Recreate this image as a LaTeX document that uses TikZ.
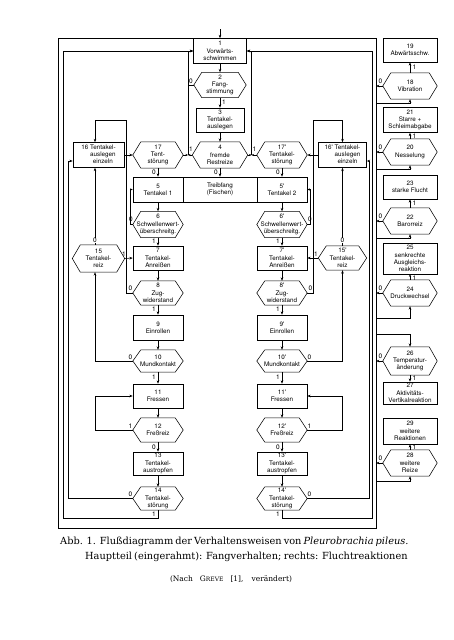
\documentclass[tikz,border=0pt]{standalone}
\usepackage{fontspec}
\newfontfamily\hv{TeX Gyre Heros}
\newfontfamily\capfont{DejaVu Serif}
\usetikzlibrary{arrows.meta}
\newcommand\hexnode[5]{%
  \node[txt,minimum width=#3pt,minimum height=#4pt] (#1) at (#2) {#5};
  \draw[ln] (#1.west) -- ([xshift=8pt]#1.north west) -- ([xshift=-8pt]#1.north east)
    -- (#1.east) -- ([xshift=-8pt]#1.south east) -- ([xshift=8pt]#1.south west) -- cycle;}
\begin{document}
\begin{tikzpicture}[x=1pt,y=-1pt,
  ln/.style={line width=0.55pt},
  arr/.style={ln,-{Stealth[length=3.4pt,width=2.6pt]}},
  sarr/.style={ln,-{Stealth[length=2.6pt,width=2.2pt]}},
  txt/.style={font=\hv\fontsize{6.3}{7.2}\selectfont,align=center,inner sep=0pt},
  box/.style={txt,draw,ln},
  lbl/.style={font=\hv\fontsize{6.5}{6.5}\selectfont,inner sep=0pt},
  lblw/.style={lbl,fill=white,inner sep=0.5pt}]
\useasboundingbox (0,0) rectangle (453,640);
\fill[white] (0,0) rectangle (453,640);
% frame (main part)
\draw[ln] (58,38) rectangle (376,528);

% ---------- centre column
\node[box,minimum width=53pt,minimum height=25pt] (n1) at (220,51) {1\\Vorwärts-\\schwimmen};
\hexnode{n2}{220,85}{52}{25}{2\\Fang-\\stimmung}
\node[box,minimum width=48pt,minimum height=24pt] (n3) at (220,120) {3\\Tentakel-\\auslegen};
\hexnode{n4}{220,155}{55}{26}{4\\fremde\\Restreize}

% ---------- left side
\hexnode{n17}{158,155}{50}{26}{17\\Tent-\\störung}
\node[box,minimum width=51pt,minimum height=25pt] (n16) at (98.5,155) {16~\begin{tabular}[t]{@{}c@{}}Tentakel-\\auslegen\\einzeln\end{tabular}};
\node[box,minimum width=50pt,minimum height=25pt] (n5) at (158,189.5) {5\\Tentakel 1};
\node[box,minimum width=74pt,minimum height=25pt] (ntr) at (220,189.5) {Treibfang\\(Fischen)};
\node[box,minimum width=50pt,minimum height=25pt] (n5p) at (282,189.5) {5'\\Tentakel 2};
\hexnode{n6}{158,224.5}{50}{26}{6\\Schwellenwert-\\überschreitg.}
\node[box,minimum width=50pt,minimum height=24pt] (n7) at (158,258) {7\\Tentakel-\\Anreißen};
\hexnode{n8}{158,293}{50}{24}{8\\Zug-\\widerstand}
\node[box,minimum width=50pt,minimum height=25pt] (n9) at (158,327.5) {9\\Einrollen};
\hexnode{n10}{158,361}{50}{22}{10\\Mundkontakt}
\node[box,minimum width=50pt,minimum height=24pt] (n11) at (158,396) {11\\Fressen};
\hexnode{n12}{158,430}{50}{24}{12\\Freßreiz}
\node[box,minimum width=50pt,minimum height=23pt] (n13) at (158,463.5) {13\\Tentakel-\\austropfen};
\hexnode{n14}{158,498.5}{50}{23}{14\\Tentakel-\\störung}
\hexnode{n15}{98.5,258.5}{52}{27}{15\\Tentakel-\\reiz}

% ---------- right side
\hexnode{n17p}{282,155}{50}{26}{17'\\Tentakel-\\störung}
\node[box,minimum width=48pt,minimum height=25pt] (n16p) at (342.5,155) {16'~\begin{tabular}[t]{@{}c@{}}Tentakel-\\auslegen\\einzeln\end{tabular}};
\hexnode{n6p}{282,224.5}{50}{26}{6'\\Schwellenwert-\\überschreitg.}
\node[box,minimum width=50pt,minimum height=24pt] (n7p) at (282,258) {7'\\Tentakel-\\Anreißen};
\hexnode{n8p}{282,293}{50}{24}{8'\\Zug-\\widerstand}
\node[box,minimum width=50pt,minimum height=25pt] (n9p) at (282,327.5) {9'\\Einrollen};
\hexnode{n10p}{282,361}{50}{22}{10'\\Mundkontakt}
\node[box,minimum width=50pt,minimum height=24pt] (n11p) at (282,396) {11'\\Fressen};
\hexnode{n12p}{282,430}{50}{24}{12'\\Freßreiz}
\node[box,minimum width=50pt,minimum height=23pt] (n13p) at (282,463.5) {13'\\Tentakel-\\austropfen};
\hexnode{n14p}{282,498.5}{50}{23}{14'\\Tentakel-\\störung}
\hexnode{n15p}{342.5,258}{48}{24}{15'\\Tentakel-\\reiz}

% ---------- escape column
\node[box,minimum width=54pt,minimum height=24pt] (n19) at (410,50) {19\\Abwärtsschw.};
\hexnode{n18}{410,86}{54}{26}{18\\Vibration}
\node[box,minimum width=54pt,minimum height=25pt] (n21) at (410,120) {21\\Starre +\\Schleimabgabe};
\hexnode{n20}{410,152}{54}{26}{20\\Nesselung}
\node[box,minimum width=54pt,minimum height=24pt] (n23) at (410,187) {23\\starke Flucht};
\hexnode{n22}{410,221}{54}{26}{22\\Barorreiz}
\node[box,minimum width=54pt,minimum height=31pt] (n25) at (410,258.5) {25\\senkrechte\\Ausgleichs-\\reaktion};
\hexnode{n24}{410,293}{54}{26}{24\\Druckwechsel}
\hexnode{n26}{410,361}{54}{28}{26\\Temperatur-\\änderung}
\node[box,minimum width=54pt,minimum height=22pt] (n27) at (410,393) {27\\Aktivitäts-\\Vertikalreaktion};
\node[box,minimum width=54pt,minimum height=26pt] (n29) at (410,431) {29\\weitere\\Reaktionen};
\hexnode{n28}{410,463}{54}{26}{28\\weitere\\Reize}

% ---------- coordinates
\coordinate (start) at (220,29);
\coordinate (jL) at (188,51);
\coordinate (jLb) at (188,155);
\coordinate (jR) at (251.5,51);
\coordinate (jRb) at (251.5,155);
\coordinate (b14) at (158,518);
\coordinate (c63b) at (63,518);
\coordinate (c63t) at (63,51);
\coordinate (c68b) at (68,498.5);
\coordinate (c68t) at (68,161);
\coordinate (l8b) at (126.5,293);
\coordinate (l8t) at (126.5,120);
\coordinate (l8l) at (95,120);
\coordinate (l6b) at (129.8,224.5);
\coordinate (l6t) at (129.8,189.5);
\coordinate (b14p) at (282,518);
\coordinate (c372b) at (372.5,518);
\coordinate (c372t) at (372.5,51);
\coordinate (c369b) at (369.5,498.5);
\coordinate (c369t) at (369.5,161);
\coordinate (r8b) at (313,293);
\coordinate (r8t) at (313,120);
\coordinate (r8r) at (342.5,120);
\coordinate (r6b) at (309.8,224.5);
\coordinate (r6t) at (309.8,189.5);
\coordinate (fr) at (376,38);
\coordinate (i18) at (376,103);
\coordinate (i20) at (376,169);
\coordinate (i22) at (376,238);
\coordinate (i24) at (376,318);
\coordinate (i26) at (376,334);
\coordinate (i28) at (376,481);

% ---------- centre connectors
\draw[arr] (start) -- (n1.north);
\draw[arr] (n1.south) -- (n2.north);
\draw[arr] (n2.south) -- (n3.north);
\node[lbl] at (224,102) {1};
\draw[arr] (n3.south) -- (n4.north);
\draw[arr] (n4.south) -- (ntr.north);
\node[lbl] at (216,172) {0};
\draw[arr] (n2.west) -| (jL) -- (n1.west);
\node[lbl] at (191,81) {0};
\draw[ln] (jLb) -- (jL);
\draw[sarr] (n4.west) -- (jLb);
\draw[sarr] (n17.east) -- (jLb);
\node[lbl] at (191,149) {1};
\draw[arr] (jRb) -- (jR) -- (n1.east);
\draw[sarr] (n4.east) -- (jRb);
\draw[sarr] (n17p.west) -- (jRb);
\node[lbl] at (254.5,149) {1};

% ---------- left connectors
\draw[arr] (n17.south) -- (n5.north);
\node[lbl] at (154,172) {0};
\draw[arr] (n16.east) -- (n17.west);
\draw[arr] (n5.south) -- (n6.north);
\draw[arr] (n6.south) -- (n7.north);
\node[lbl] at (154,241) {1};
\draw[arr] (n7.south) -- (n8.north);
\draw[arr] (n8.south) -- (n9.north);
\node[lbl] at (154,309) {1};
\draw[arr] (n9.south) -- (n10.north);
\draw[arr] (n10.south) -- (n11.north);
\node[lbl] at (154,377.5) {1};
\draw[arr] (n11.south) -- (n12.north);
\draw[arr] (n12.south) -- (n13.north);
\node[lbl] at (154,447) {0};
\draw[arr] (n13.south) -- (n14.north);
\draw[sarr] (n6.west) -- (l6b) -- (l6t) -- (n5.west);
\node[lbl] at (131,219.5) {0};
\draw[arr] (n8.west) -- (l8b) -- (l8t) -- (l8l) -- (n16.north -| l8l);
\node[lbl] at (130.5,288.5) {0};
\draw[arr] (n15.east) -- (n7.west);
\node[lbl] at (124,254) {1};
\draw[arr] (n15.north -| l8l) -- (n16.south -| l8l);
\node[lblw] at (95,240.5) {0};
\draw[arr] (n10.west) -- (n10.west -| l8l) -- (n15.south -| l8l);
\node[lbl] at (130.5,357) {0};
\draw[arr] (n12.west) -- (n12.west -| l8l) -- (n11.west -| l8l) -- (n11.west);
\node[lbl] at (130.5,426) {1};
\draw[arr] (n14.west) -- (c68b) -- (c68t) -- (n16.west |- c68t);
\node[lbl] at (130.5,494.5) {0};
\draw[arr] (n14.south) -- (b14) -- (c63b) -- (c63t) -- (n1.west);
\node[lbl] at (154,514) {1};

% ---------- right connectors
\draw[arr] (n17p.south) -- (n5p.north);
\node[lbl] at (278,172) {0};
\draw[arr] (n16p.west) -- (n17p.east);
\draw[arr] (n5p.south) -- (n6p.north);
\draw[arr] (n6p.south) -- (n7p.north);
\node[lbl] at (278,241) {1};
\draw[arr] (n7p.south) -- (n8p.north);
\draw[arr] (n8p.south) -- (n9p.north);
\node[lbl] at (278,309) {1};
\draw[arr] (n9p.south) -- (n10p.north);
\draw[arr] (n10p.south) -- (n11p.north);
\node[lbl] at (278,377.5) {1};
\draw[arr] (n11p.south) -- (n12p.north);
\draw[arr] (n12p.south) -- (n13p.north);
\node[lbl] at (278,447) {0};
\draw[arr] (n13p.south) -- (n14p.north);
\draw[sarr] (n6p.east) -- (r6b) -- (r6t) -- (n5p.east);
\node[lbl] at (310,219.5) {0};
\draw[arr] (n8p.east) -- (r8b) -- (r8t) -- (r8r) -- (n16p.north);
\node[lbl] at (310.5,288.5) {0};
\draw[arr] (n15p.west) -- (n7p.east);
\node[lbl] at (316,254) {1};
\draw[arr] (n15p.north) -- (n16p.south);
\node[lblw] at (342.5,240.5) {0};
\draw[arr] (n10p.east) -| (n15p.south);
\node[lbl] at (309.5,357) {0};
\draw[arr] (n12p.east) -- (n12p.east -| r8r) -- (n11p.east -| r8r) -- (n11p.east);
\node[lbl] at (309.5,426) {1};
\draw[arr] (n14p.east) -- (c369b) -- (c369t) -- (n16p.east |- c369t);
\node[lbl] at (309.5,494.5) {0};
\draw[arr] (n14p.south) -- (b14p) -- (c372b) -- (c372t) -- (n1.east);
\node[lbl] at (278,514) {1};

% ---------- escape connectors
\draw[arr] (n18.north) -- (n19.south);
\node[lbl] at (414.5,67.5) {1};
\draw[arr] (n18.west) -- (n18.west -| fr);
\node[lbl] at (380.5,81.5) {0};
\draw[arr] (i18) -| (n18.south);
\draw[arr] (n20.north) -- (n21.south);
\node[lbl] at (414.5,136) {1};
\draw[arr] (n20.west) -- (n20.west -| fr);
\node[lbl] at (380.5,147.5) {0};
\draw[arr] (i20) -| (n20.south);
\draw[arr] (n22.north) -- (n23.south);
\node[lbl] at (414.5,203.5) {1};
\draw[arr] (n22.west) -- (n22.west -| fr);
\node[lbl] at (380.5,216.5) {0};
\draw[arr] (i22) -| (n22.south);
\draw[sarr] (n24.north) -- (n25.south);
\node[lbl] at (414.5,278) {1};
\draw[arr] (n24.west) -- (n24.west -| fr);
\node[lbl] at (380.5,288.5) {0};
\draw[arr] (i24) -| (n24.south);
\draw[arr] (n26.south) -- (n27.north);
\node[lbl] at (414.5,378.5) {1};
\draw[arr] (n26.west) -- (n26.west -| fr);
\node[lbl] at (380.5,356.5) {0};
\draw[arr] (i26) -| (n26.north);
\draw[arr] (n28.north) -- (n29.south);
\node[lbl] at (414.5,447) {1};
\draw[arr] (n28.west) -- (n28.west -| fr);
\node[lbl] at (380.5,458.5) {0};
\draw[arr] (i28) -| (n28.south);

% ---------- caption
\node[anchor=base west,inner sep=0pt,font=\capfont\fontsize{9.8}{11}\selectfont] (cap1) at (60,544)
  {\makebox[337pt][s]{Abb. 1. Flußdiagramm der Verhaltensweisen von \textit{Pleurobrachia pileus.}}};
\node[anchor=base west,inner sep=0pt,font=\capfont\fontsize{9.8}{11}\selectfont] (cap2) at (85,559)
  {\makebox[312pt][s]{Hauptteil (eingerahmt): Fangverhalten; rechts: Fluchtreaktionen}};
\node[anchor=base,inner sep=0pt,font=\capfont\fontsize{7.5}{9}\selectfont] (cap3) at (231,581)
  {\makebox[122pt][s]{(Nach G{\fontsize{6}{7}\selectfont REVE} [1], verändert)}};
\end{tikzpicture}
\end{document}
